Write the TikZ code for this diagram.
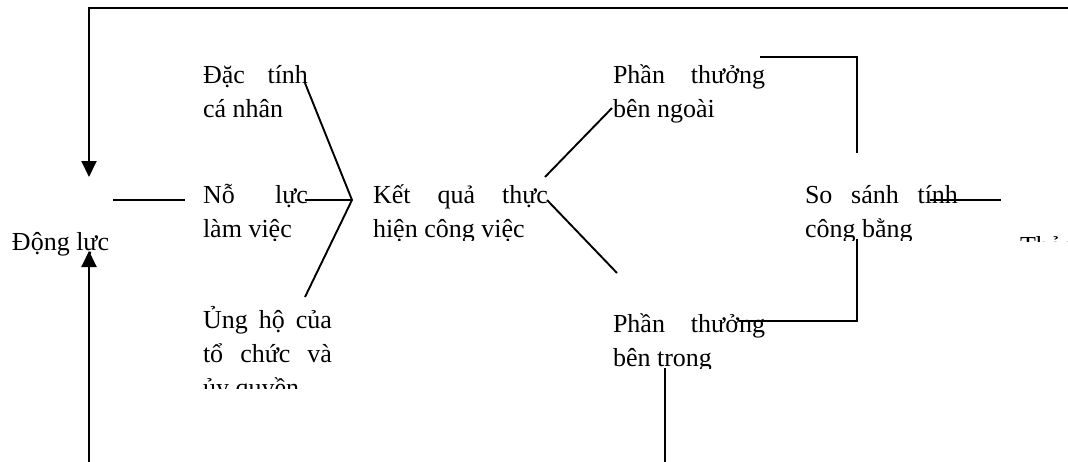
\documentclass[tikz,border=0pt]{standalone}
\usepackage{fontspec}
\setmainfont{Liberation Serif}
\usetikzlibrary{arrows.meta}
\begin{document}
\begin{tikzpicture}[x=1pt,y=-1pt,
  conn/.style={line width=1.9pt},
  arr/.style={conn,-{Triangle[width=15pt,length=16pt]}},
  lbl/.style={anchor=base west,inner sep=0pt,outer sep=0pt,font=\fontsize{26}{34}\selectfont}]
\clip (0,0) rectangle (1068,461);
% labels
\node[lbl] (dongluc) at (12,250) {Động lực};
\node[lbl] (dactinh) at (203,83) {\parbox[t]{105pt}{Đặc\hfill tính\\cá nhân}};
\begin{scope}
  \clip (0,0) rectangle (1068,240);
  \node[lbl] (noluc) at (203,203) {\parbox[t]{105pt}{Nỗ\hfill lực\\làm việc}};
  \node[lbl] (ketqua) at (373,203) {\parbox[t]{175pt}{Kết\hfill quả\hfill thực\\hiện công việc}};
  \node[lbl] (sosanh) at (805,203) {\parbox[t]{153pt}{So\hfill sánh\hfill tính\\công bằng}};
\end{scope}
\begin{scope}
  \clip (0,0) rectangle (1068,241);
  \node[lbl] (thoaman) at (1020,254) {Thỏa mãn};
\end{scope}
\begin{scope}
  \clip (0,0) rectangle (1068,388);
  \node[lbl] (ungho) at (203,328) {\parbox[t]{129pt}{Ủng\hfill hộ\hfill của\\tổ\hfill chức\hfill và\\ủy quyền}};
\end{scope}
\begin{scope}
  \clip (0,0) rectangle (1068,123);
  \node[lbl] (ptngoai) at (613,83) {\parbox[t]{152pt}{Phần\hfill thưởng\\bên ngoài}};
\end{scope}
\begin{scope}
  \clip (0,0) rectangle (1068,368);
  \node[lbl] (pttrong) at (613,332) {\parbox[t]{152pt}{Phần\hfill thưởng\\bên trong}};
\end{scope}
% connector points
\coordinate (tr) at (1072,8);
\coordinate (tl) at (89,8);
\coordinate (dlTop) at (89,177);
\coordinate (bl) at (89,465);
\coordinate (dlBot) at (89,251);
\coordinate (a1) at (113,200);
\coordinate (a2) at (185,200);
\coordinate (b1) at (305,200);
\coordinate (jn) at (352,200);
\coordinate (c1) at (305,83);
\coordinate (c2) at (305,297);
\coordinate (k1) at (545,177);
\coordinate (k2) at (612,108);
\coordinate (k3) at (547,200);
\coordinate (k4) at (617,273);
\coordinate (n1) at (760,57);
\coordinate (n2) at (857,57);
\coordinate (n3) at (857,153);
\coordinate (s1) at (930,200);
\coordinate (s2) at (1001,200);
\coordinate (t1) at (857,239);
\coordinate (t2) at (857,321);
\coordinate (t3) at (739,321);
\coordinate (r1) at (665,368);
\coordinate (r2) at (665,465);
% connectors
\draw[arr] (tr) -- (tl) -- (dlTop);
\draw[arr] (bl) -- (dlBot);
\draw[conn] (a1) -- (a2);
\draw[conn] (b1) -- (jn);
\draw[conn] (c1) -- (jn) -- (c2);
\draw[conn] (k1) -- (k2);
\draw[conn] (k3) -- (k4);
\draw[conn] (n1) -- (n2) -- (n3);
\draw[conn] (s1) -- (s2);
\draw[conn] (t1) -- (t2) -- (t3);
\draw[conn] (r1) -- (r2);
\end{tikzpicture}
\end{document}
